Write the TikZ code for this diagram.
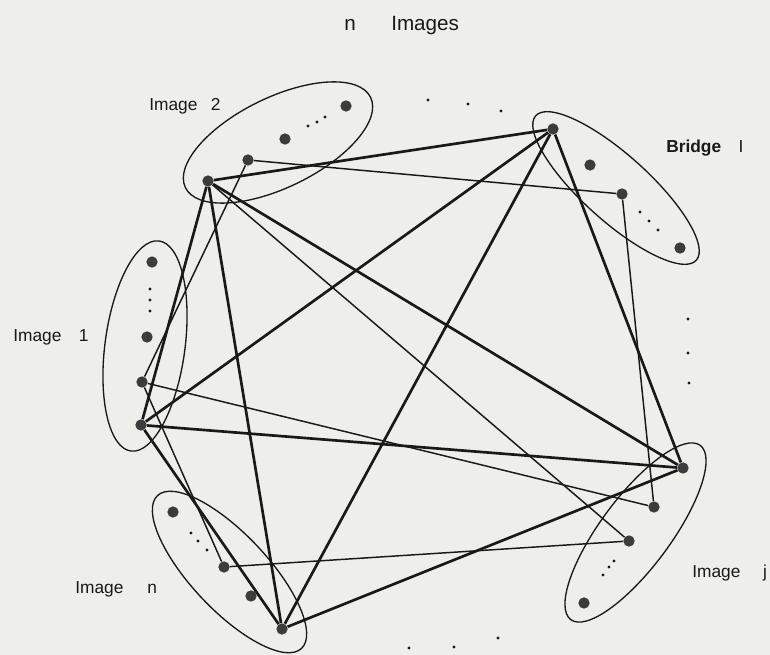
\documentclass[tikz,border=0pt]{standalone}
\usepackage{fontspec}
\setmainfont{Liberation Sans}
\definecolor{paper}{RGB}{238,238,235}
\definecolor{ink}{RGB}{25,25,25}
\definecolor{dotc}{RGB}{60,60,60}
\tikzset{
  bigdot/.style={circle,fill=dotc,draw=none,inner sep=0pt,minimum size=8.5pt},
  smalldot/.style={circle,fill=ink,draw=none,inner sep=0pt,minimum size=2.6pt},
  heavy/.style={draw=ink,line width=2pt},
  light/.style={draw=ink,line width=1.1pt},
  group/.style={draw=ink,line width=1pt},
  lbl/.style={anchor=base west,inner sep=0pt,font=\fontsize{13}{15}\selectfont,text=ink},
  ttl/.style={anchor=base west,inner sep=0pt,font=\fontsize{15.5}{17}\selectfont,text=ink}
}
\begin{document}
\begin{tikzpicture}[x=0.75pt,y=-0.75pt]
\fill[paper] (0,0) rectangle (770,655);
\useasboundingbox (0,0) rectangle (770,655);

% group ellipses
\draw[group,rotate around={26:(278,142.5)}] (278,142.5) ellipse [x radius=77.25pt, y radius=33.75pt];
\draw[group,rotate around={-42:(616,188)}] (616,188) ellipse [x radius=81pt, y radius=24.75pt];
\draw[group,rotate around={-7.6:(145,346)}] (145,346) ellipse [x radius=30pt, y radius=79.5pt];
\draw[group,rotate around={-46.7:(229.5,572)}] (229.5,572) ellipse [x radius=78.75pt, y radius=28.5pt];
\draw[group,rotate around={53.4:(635.5,532.5)}] (635.5,532.5) ellipse [x radius=81.4pt, y radius=26.25pt];

% Image 2
\node[bigdot] (A2) at (208,181) {};
\node[bigdot] (B2) at (248,160) {};
\node[bigdot] (d2a) at (285,139) {};
\node[bigdot] (d2b) at (346,106) {};
\node[smalldot] (s2a) at (308,126) {};
\node[smalldot] (s2b) at (317,122) {};
\node[smalldot] (s2c) at (325,117) {};
% Image I
\node[bigdot] (AI) at (553,129) {};
\node[bigdot] (dIa) at (590,165) {};
\node[bigdot] (BI) at (622,194) {};
\node[smalldot] (sIa) at (640,212) {};
\node[smalldot] (sIb) at (649,221) {};
\node[smalldot] (sIc) at (658,230) {};
\node[bigdot] (dIb) at (680,248) {};
% Image 1
\node[bigdot] (d1a) at (152,262) {};
\node[smalldot] (s1a) at (150,289) {};
\node[smalldot] (s1b) at (150,300) {};
\node[smalldot] (s1c) at (150,311) {};
\node[bigdot] (d1b) at (147,337) {};
\node[bigdot] (B1) at (142,382) {};
\node[bigdot] (A1) at (141,425) {};
% Image n
\node[bigdot] (dna) at (173,512) {};
\node[smalldot] (sna) at (191,533) {};
\node[smalldot] (snb) at (198,541) {};
\node[smalldot] (snc) at (207,550) {};
\node[bigdot] (Bn) at (224,567) {};
\node[bigdot] (dnb) at (251,596) {};
\node[bigdot] (An) at (282,629) {};
% Image j
\node[bigdot] (Aj) at (683,468) {};
\node[bigdot] (Bj) at (654,507) {};
\node[bigdot] (Cj) at (629,541) {};
\node[smalldot] (sja) at (614,561) {};
\node[smalldot] (sjb) at (609,567) {};
\node[smalldot] (sjc) at (603,575) {};
\node[bigdot] (djb) at (584,603) {};

% ellipsis dots between groups
\node[smalldot] (t1) at (428,100) {};
\node[smalldot] (t2) at (468,104) {};
\node[smalldot] (t3) at (501,111) {};
\node[smalldot] (r1) at (688,319) {};
\node[smalldot] (r2) at (688,353) {};
\node[smalldot] (r3) at (689,383) {};
\node[smalldot] (b1) at (409,648) {};
\node[smalldot] (b2) at (454,647) {};
\node[smalldot] (b3) at (498,638) {};

% heavy connections
\draw[heavy] (A2) -- (AI);
\draw[heavy] (A2) -- (A1);
\draw[heavy] (A2) -- (An);
\draw[heavy] (A2) -- (Aj);
\draw[heavy] (AI) -- (A1);
\draw[heavy] (AI) -- (An);
\draw[heavy] (AI) -- (Aj);
\draw[heavy] (A1) -- (An);
\draw[heavy] (A1) -- (Aj);
\draw[heavy] (An) -- (Aj);

% light connections
\draw[light] (B2) -- (BI);
\draw[light] (B2) -- (B1);
\draw[light] (BI) -- (Bj);
\draw[light] (B1) -- (Bj);
\draw[light] (B1) -- (Bn);
\draw[light] (Bn) -- (Cj);
\draw[light] (A2) -- (Cj);

% labels
\node[ttl] (tn) at (344,31) {n};
\node[ttl] (timg) at (391,31) {Images};
\node[lbl] (l2) at (149,111) {Image\hspace{10pt}2};
\node[lbl] (lI) at (666,153) {\bfseries Bridge\hspace{13pt}\mdseries I};
\node[lbl] (l1) at (13,342) {Image\hspace{13pt}1};
\node[lbl] (ln) at (75,593) {Image\hspace{18pt}n};
\node[lbl] (lj) at (692,577) {Image\hspace{17pt}j};
\end{tikzpicture}
\end{document}
